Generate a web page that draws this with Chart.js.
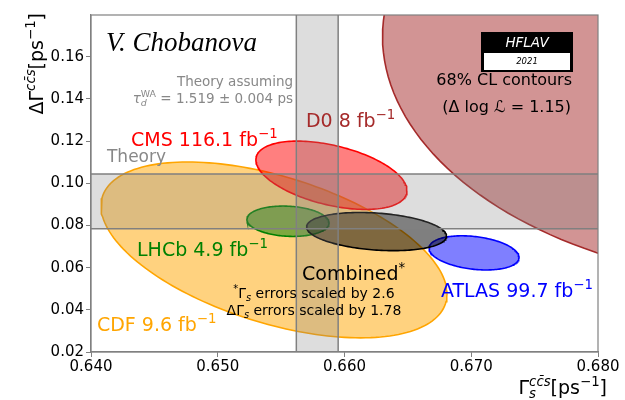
<!DOCTYPE html>
<html>
<head>
<meta charset="utf-8">
<script src="https://cdn.jsdelivr.net/npm/chart.js@4.4.0/dist/chart.umd.min.js"></script>
<style>
  html, body { margin: 0; padding: 0; background: #fff; }
</style>
</head>
<body>
<canvas id="hflavChart" width="625" height="400"></canvas>
<script>
// 68% CL contours, listed bottom to top in drawing order
const experiments = ['D0', 'CDF', 'CMS', 'LHCb', 'ATLAS', 'Combined'];
const gammaCentre = [0.6930, 0.65444, 0.65897, 0.65554, 0.67022, 0.66253];
const dGammaCentre = [0.163, 0.0684, 0.1038, 0.0820, 0.0670, 0.0771];
const gammaHalfWidth = [0.0300, 0.01365, 0.00596, 0.00324, 0.00355, 0.00552];
const dGammaHalfWidth = [0.110, 0.0417, 0.0162, 0.0072, 0.0081, 0.00905];
const correlation = [-0.06, -0.5, -0.45, -0.12, -0.27, -0.24];
const lineColours = ['#a52a2a', '#ffa500', '#ff0000', '#008000', '#0000ff', '#000000'];
const fillColours = ['rgba(165,42,42,0.5)', 'rgba(255,165,0,0.5)', 'rgba(255,0,0,0.5)',
                     'rgba(0,128,0,0.5)', 'rgba(0,0,255,0.5)', 'rgba(0,0,0,0.5)'];

// theory prediction bands
const theoryGamma = [0.6562, 0.6595];
const theoryDGamma = [0.0784, 0.1044];

const xTicks = [0.640, 0.650, 0.660, 0.670, 0.680];
const yTicks = [0.02, 0.04, 0.06, 0.08, 0.10, 0.12, 0.14, 0.16];

// outline of a correlated 2D contour from its centre, half widths and correlation
function contour(i) {
    const pts = [];
    const r = correlation[i];
    const steps = 180;
    for (let k = 0; k <= steps; k++) {
        const t = 2 * Math.PI * k / steps;
        pts.push({
            x: gammaCentre[i] + gammaHalfWidth[i] * Math.cos(t),
            y: dGammaCentre[i] + dGammaHalfWidth[i] * (r * Math.cos(t) + Math.sqrt(1 - r * r) * Math.sin(t))
        });
    }
    return pts;
}

const FONT = '"DejaVu Sans", sans-serif';

// text with super/subscripts; parts are [text, style, noAdvance]
function drawRich(ctx, parts, x, y, align, size, colour) {
    const fontFor = (st, s) => (st.indexOf('it') >= 0 ? 'italic ' : '') + s + 'px ' + FONT;
    let total = 0;
    const laid = parts.map(p => {
        const st = p[1] || '';
        const small = st.indexOf('sup') >= 0 || st.indexOf('sub') >= 0;
        const s = small ? size * 0.7 : size;
        ctx.font = fontFor(st, s);
        const w = ctx.measureText(p[0]).width;
        const dy = st.indexOf('sup') >= 0 ? -0.42 * size : (st.indexOf('sub') >= 0 ? 0.22 * size : 0);
        const item = {t: p[0], font: ctx.font, w: w, dy: dy, at: total};
        if (!p[2]) total += w;
        return item;
    });
    let x0 = x;
    if (align === 'right') x0 = x - total;
    if (align === 'center') x0 = x - total / 2;
    const base = y + 0.36 * size;
    ctx.fillStyle = colour;
    ctx.textAlign = 'left';
    ctx.textBaseline = 'alphabetic';
    laid.forEach(it => {
        ctx.font = it.font;
        ctx.fillText(it.t, x0 + it.at, base + it.dy);
    });
}

const ellipseFill = {
    id: 'ellipseFill',
    beforeDatasetDraw(chart, args) {
        const pts = args.meta.data;
        const ds = chart.data.datasets[args.index];
        const a = chart.chartArea;
        const ctx = chart.ctx;
        ctx.save();
        ctx.beginPath();
        ctx.rect(a.left, a.top, a.right - a.left, a.bottom - a.top);
        ctx.clip();
        ctx.beginPath();
        pts.forEach((p, i) => i ? ctx.lineTo(p.x, p.y) : ctx.moveTo(p.x, p.y));
        ctx.closePath();
        ctx.fillStyle = ds.fillColour;
        ctx.fill();
        ctx.restore();
    }
};

const theoryBands = {
    id: 'theoryBands',
    afterDatasetsDraw(chart) {
        const {ctx, chartArea: a, scales: {x, y}} = chart;
        const gx = theoryGamma.map(v => x.getPixelForValue(v));
        const gy = theoryDGamma.map(v => y.getPixelForValue(v));
        ctx.save();
        ctx.fillStyle = 'rgba(128,128,128,0.27)';
        ctx.fillRect(gx[0], a.top, gx[1] - gx[0], a.bottom - a.top);
        ctx.fillRect(a.left, gy[1], a.right - a.left, gy[0] - gy[1]);
        ctx.strokeStyle = '#808080';
        ctx.lineWidth = 1.5;
        ctx.beginPath();
        gx.forEach(p => { ctx.moveTo(p, a.top); ctx.lineTo(p, a.bottom); });
        gy.forEach(p => { ctx.moveTo(a.left, p); ctx.lineTo(a.right, p); });
        ctx.stroke();
        ctx.restore();
    }
};

const annotations = {
    id: 'annotations',
    afterDraw(chart) {
        const {ctx, chartArea: a, scales: {x, y}} = chart;
        const X = v => x.getPixelForValue(v);
        const Y = v => y.getPixelForValue(v);
        ctx.save();

        // frame
        ctx.strokeStyle = '#808080';
        ctx.lineWidth = 1.2;
        ctx.strokeRect(a.left, a.top, a.right - a.left, a.bottom - a.top);

        ctx.font = 'italic 27px "Liberation Serif", serif';
        ctx.fillStyle = '#000';
        ctx.textBaseline = 'middle';
        ctx.fillText('V. Chobanova', X(0.64118), Y(0.1662));

        drawRich(ctx, [['Theory assuming']], X(0.65594), Y(0.14857), 'right', 13.5, '#888');
        drawRich(ctx, [['τ', 'it'], ['d', 'itsub', true], ['WA', 'sup'], [' = 1.519 ± 0.004 ps']],
                 X(0.65594), Y(0.14048), 'right', 13.5, '#888');
        drawRich(ctx, [['Theory']], X(0.64126), Y(0.11286), 'left', 17, '#888');

        const fb = [' fb'];
        const inv = ['−1', 'sup'];
        drawRich(ctx, [['CMS 116.1'], fb, inv], X(0.64316), Y(0.12095), 'left', 19, '#ff0000');
        drawRich(ctx, [['D0 8'], fb, inv], X(0.65696), Y(0.1300), 'left', 19, '#a52a2a');
        drawRich(ctx, [['LHCb 4.9'], fb, inv], X(0.64363), Y(0.06857), 'left', 19, '#008000');
        drawRich(ctx, [['CDF 9.6'], fb, inv], X(0.64047), Y(0.03333), 'left', 19, '#ffa500');
        drawRich(ctx, [['ATLAS 99.7'], fb, inv], X(0.66761), Y(0.04952), 'left', 19, '#0000ff');
        drawRich(ctx, [['Combined'], ['*', 'sup']], X(0.65665), Y(0.05762), 'left', 19, '#000');
        drawRich(ctx, [['*', 'sup'], ['Γ'], ['s', 'itsub'], [' errors scaled by 2.6']],
                 X(0.65759), Y(0.0481), 'center', 14, '#000');
        drawRich(ctx, [['ΔΓ'], ['s', 'itsub'], [' errors scaled by 1.78']],
                 X(0.65759), Y(0.0400), 'center', 14, '#000');

        drawRich(ctx, [['68% CL contours']], X(0.67795), Y(0.14952), 'right', 16, '#000');
        drawRich(ctx, [['(Δ log '], ['ℒ', 'it'], [' = 1.15)']], X(0.67787), Y(0.13667), 'right', 16, '#000');

        // HFLAV logo
        const bx = a.right - 117, by = a.top + 17;
        ctx.fillStyle = '#000';
        ctx.fillRect(bx, by, 92, 40);
        ctx.fillStyle = '#fff';
        ctx.fillRect(bx + 3, by + 21, 86, 17);
        ctx.textAlign = 'center';
        ctx.textBaseline = 'middle';
        ctx.font = 'italic 13.5px ' + FONT;
        ctx.fillText('HFLAV', bx + 46, by + 11);
        ctx.fillStyle = '#000';
        ctx.font = 'italic 8.5px ' + FONT;
        ctx.fillText('2021', bx + 46, by + 30);

        // axis titles
        drawRich(ctx, [['Γ'], ['s', 'itsub', true], ['cc\u0304s', 'itsup'], ['[ps'], inv, [']']],
                 607, 387, 'right', 19, '#000');
        ctx.translate(36, 13);
        ctx.rotate(-Math.PI / 2);
        drawRich(ctx, [['ΔΓ'], ['cc\u0304s', 'itsup'], ['[ps'], inv, [']']], 0, 0, 'right', 19, '#000');
        ctx.restore();
    }
};

const ctx = document.getElementById('hflavChart').getContext('2d');
const hflavChart = new Chart(ctx, {
    type: 'scatter',
    data: {
        datasets: experiments.map((name, i) => ({
            label: name,
            data: contour(i),
            showLine: true,
            pointRadius: 0,
            borderColor: lineColours[i],
            borderWidth: 1.6,
            fill: false,
            fillColour: fillColours[i],
            order: experiments.length - i
        }))
    },
    options: {
        responsive: false,
        animation: false,
        devicePixelRatio: 1,
        layout: { padding: { left: 0, right: 27, top: 15, bottom: 0 } },
        plugins: { legend: { display: false }, tooltip: { enabled: false } },
        scales: {
            x: {
                type: 'linear',
                min: 0.640,
                max: 0.680,
                afterBuildTicks: s => { s.ticks = xTicks.map(v => ({ value: v })); },
                afterFit: s => { s.height = 48; },
                ticks: {
                    color: '#000',
                    padding: 1,
                    maxRotation: 0,
                    font: { family: 'DejaVu Sans', size: 15 },
                    callback: v => v.toFixed(3)
                },
                grid: { drawOnChartArea: false, drawTicks: true, tickLength: 5, color: '#808080' },
                border: { display: true, color: '#808080', width: 1.2 }
            },
            y: {
                type: 'linear',
                min: 0.02,
                max: 0.1798,
                afterBuildTicks: s => { s.ticks = yTicks.map(v => ({ value: v })); },
                afterFit: s => { s.width = 91; },
                ticks: {
                    color: '#000',
                    padding: 2,
                    font: { family: 'DejaVu Sans', size: 15 },
                    callback: v => v.toFixed(2)
                },
                grid: { drawOnChartArea: false, drawTicks: true, tickLength: 5, color: '#808080' },
                border: { display: true, color: '#808080', width: 1.2 }
            }
        }
    },
    plugins: [ellipseFill, theoryBands, annotations]
});
</script>
</body>
</html>
